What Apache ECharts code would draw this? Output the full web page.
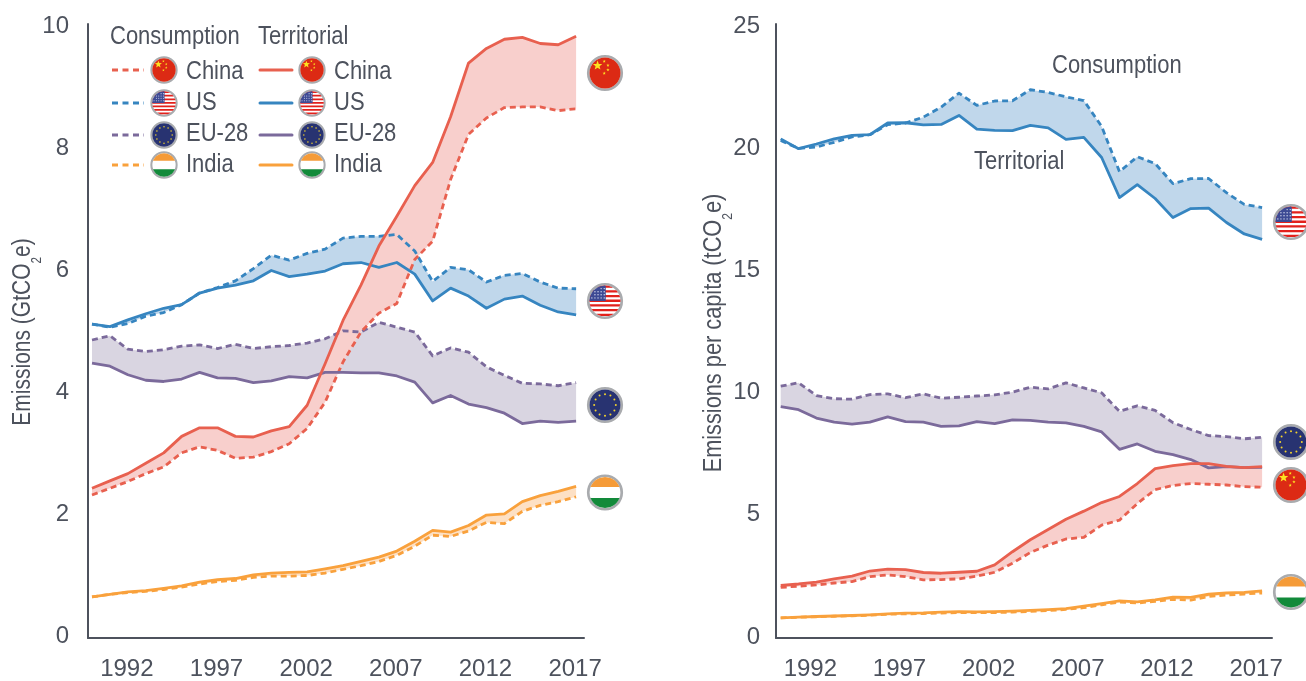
<!DOCTYPE html>
<html>
<head>
<meta charset="UTF-8">
<title>Emissions</title>
<script src="https://cdn.jsdelivr.net/npm/echarts@6/dist/echarts.min.js"></script>
<style>
  html, body { margin: 0; padding: 0; background: #fff; overflow: hidden; }
  #chart { width: 1306px; height: 681px; }
</style>
</head>
<body>
<div id="chart"></div>
<script>
var years = [1990,1991,1992,1993,1994,1995,1996,1997,1998,1999,2000,2001,2002,2003,2004,2005,2006,2007,2008,2009,2010,2011,2012,2013,2014,2015,2016,2017];
var tickYears = [1992,1997,2002,2007,2012,2017];
var ticksTotal = [0,2,4,6,8,10];
var ticksCapita = [0,5,10,15,20,25];

// total emissions, GtCO2e
var chinaTerr = [2.39,2.51,2.63,2.80,2.97,3.24,3.38,3.38,3.24,3.23,3.33,3.40,3.75,4.43,5.14,5.72,6.36,6.85,7.35,7.73,8.48,9.36,9.60,9.75,9.78,9.68,9.66,9.80];
var chinaCons = [2.28,2.39,2.50,2.63,2.74,2.97,3.07,3.01,2.88,2.90,2.99,3.12,3.37,3.80,4.46,4.95,5.26,5.42,6.14,6.44,7.45,8.19,8.46,8.63,8.64,8.64,8.58,8.61];
var usTerr = [5.08,5.04,5.15,5.25,5.34,5.40,5.59,5.67,5.72,5.79,5.96,5.86,5.90,5.95,6.07,6.09,6.01,6.09,5.90,5.46,5.67,5.54,5.34,5.49,5.54,5.39,5.28,5.23];
var usCons = [5.08,5.03,5.09,5.21,5.27,5.40,5.59,5.68,5.79,5.99,6.21,6.13,6.24,6.31,6.49,6.52,6.52,6.55,6.28,5.78,6.01,5.97,5.77,5.88,5.91,5.77,5.67,5.66];
var euTerr = [4.44,4.39,4.25,4.16,4.14,4.18,4.29,4.20,4.19,4.12,4.15,4.22,4.20,4.29,4.29,4.28,4.28,4.23,4.13,3.79,3.91,3.77,3.71,3.62,3.45,3.49,3.47,3.49];
var euCons = [4.82,4.89,4.67,4.63,4.66,4.72,4.74,4.68,4.75,4.68,4.71,4.73,4.77,4.84,4.97,4.95,5.11,5.03,4.95,4.56,4.69,4.62,4.38,4.24,4.11,4.10,4.07,4.12];
var indiaTerr = [0.61,0.65,0.69,0.71,0.75,0.79,0.85,0.89,0.91,0.97,1.00,1.01,1.02,1.07,1.12,1.19,1.26,1.36,1.52,1.70,1.67,1.78,1.95,1.97,2.17,2.27,2.34,2.42];
var indiaCons = [0.61,0.65,0.68,0.70,0.73,0.77,0.82,0.86,0.88,0.93,0.95,0.95,0.96,1.00,1.06,1.12,1.19,1.29,1.44,1.62,1.60,1.69,1.83,1.81,2.01,2.11,2.17,2.25];

// per capita, tCO2e
var chinaTerrCap = [2.03,2.09,2.17,2.30,2.41,2.62,2.70,2.68,2.56,2.53,2.57,2.61,2.87,3.41,3.90,4.32,4.74,5.07,5.42,5.67,6.20,6.81,6.93,7.01,7.01,6.90,6.85,6.89];
var chinaConsCap = [1.95,2.00,2.05,2.13,2.19,2.39,2.46,2.39,2.26,2.27,2.30,2.41,2.57,2.94,3.38,3.68,3.93,4.00,4.50,4.70,5.38,5.95,6.12,6.20,6.17,6.14,6.07,6.05];
var usTerrCap = [20.30,19.90,20.09,20.30,20.44,20.47,20.95,20.96,20.87,20.89,21.26,20.70,20.65,20.64,20.85,20.75,20.28,20.36,19.54,17.90,18.43,17.86,17.08,17.45,17.47,16.88,16.41,16.19];
var usConsCap = [20.23,19.91,19.97,20.16,20.38,20.47,20.88,20.95,21.19,21.60,22.17,21.67,21.85,21.86,22.31,22.20,22.02,21.87,20.81,18.96,19.57,19.29,18.47,18.67,18.68,18.10,17.62,17.49];
var euTerrCap = [9.35,9.22,8.88,8.71,8.63,8.71,8.93,8.73,8.71,8.54,8.56,8.73,8.65,8.80,8.78,8.71,8.68,8.54,8.31,7.60,7.82,7.52,7.38,7.18,6.84,6.89,6.85,6.86];
var euConsCap = [10.18,10.32,9.80,9.67,9.65,9.84,9.87,9.71,9.87,9.69,9.73,9.78,9.83,9.94,10.14,10.07,10.32,10.11,9.91,9.15,9.38,9.19,8.69,8.41,8.16,8.12,8.03,8.09];
var indiaTerrCap = [0.70,0.73,0.76,0.78,0.80,0.83,0.87,0.90,0.91,0.94,0.96,0.95,0.96,0.98,1.01,1.04,1.08,1.18,1.29,1.40,1.36,1.44,1.55,1.54,1.67,1.73,1.75,1.81];
var indiaConsCap = [0.70,0.73,0.75,0.77,0.79,0.81,0.85,0.87,0.88,0.90,0.92,0.92,0.92,0.94,0.97,1.00,1.05,1.12,1.24,1.35,1.31,1.38,1.46,1.43,1.58,1.64,1.68,1.72];

var FONT = '"Liberation Sans", sans-serif';
var INK = '#4d525d';
var NARROW = 0.88; // the original type is a condensed face, none is installed
var colors = { china: '#e8604f', us: '#3685c0', eu: '#7b6a9b', india: '#f9a13c' };
var bands = { china: '#f8cfcc', us: '#c0d7eb', eu: '#d9d5e1', india: '#fde0c4' };

function pairs(values) {
    return years.map(function (y, i) { return [y, values[i]]; });
}

function bandSeries(terr, cons, key, idx) {
    return {
        type: 'custom',
        xAxisIndex: idx,
        yAxisIndex: idx,
        z: 1,
        silent: true,
        data: [[years[0], terr[0]]],
        renderItem: function (params, api) {
            var pts = [];
            for (var i = 0; i < years.length; i++) pts.push(api.coord([years[i], terr[i]]));
            for (var j = years.length - 1; j >= 0; j--) pts.push(api.coord([years[j], cons[j]]));
            return { type: 'polygon', shape: { points: pts }, style: { fill: bands[key], blend: 'multiply' } };
        }
    };
}

function lineSeries(values, key, idx, dashed) {
    return {
        type: 'line',
        xAxisIndex: idx,
        yAxisIndex: idx,
        z: dashed ? 2 : 3,
        silent: true,
        showSymbol: false,
        symbol: 'none',
        data: pairs(values),
        lineStyle: { color: colors[key], width: 2.8, type: dashed ? [6, 4] : 'solid', cap: 'butt', join: 'round' }
    };
}

function countrySeries(terr, cons, key, idx) {
    return [bandSeries(terr, cons, key, idx), lineSeries(cons, key, idx, true), lineSeries(terr, key, idx, false)];
}

// part of a circle between two heights, right side cut at xMax
function chord(r, y0, y1, xMax) {
    var left = [], right = [], n = 16;
    for (var i = 0; i <= n; i++) {
        var y = y0 + (y1 - y0) * i / n;
        var w = Math.sqrt(Math.max(0, r * r - y * y));
        right.push([xMax === undefined ? w : Math.min(w, xMax), y]);
        left.unshift([-w, y]);
    }
    return right.concat(left);
}

function starPoints(cx, cy, r) {
    var pts = [];
    for (var i = 0; i < 10; i++) {
        var a = -Math.PI / 2 + i * Math.PI / 5;
        var d = i % 2 ? r * 0.42 : r;
        pts.push([cx + d * Math.cos(a), cy + d * Math.sin(a)]);
    }
    return pts;
}

function flag(name, cx, cy, R) {
    var r = R * 0.86;
    var kids = [{ type: 'circle', shape: { cx: 0, cy: 0, r: R - R * 0.07 }, style: { fill: '#fff', stroke: '#a9abae', lineWidth: R * 0.15 } }];
    var i;
    if (name === 'china') {
        kids.push({ type: 'circle', shape: { cx: 0, cy: 0, r: r }, style: { fill: '#dc2a14' } });
        kids.push({ type: 'polygon', shape: { points: starPoints(-r * 0.48, -r * 0.48, r * 0.32) }, style: { fill: '#fde321' } });
        [[-0.05, -0.75], [0.19, -0.5], [0.19, -0.2], [-0.05, 0.02]].forEach(function (p) {
            kids.push({ type: 'polygon', shape: { points: starPoints(p[0] * r, p[1] * r, r * 0.11) }, style: { fill: '#fde321' } });
        });
    } else if (name === 'us') {
        for (i = 0; i < 7; i++) {
            var top = -r + i * 2 * r / 6.6;
            kids.push({ type: 'polygon', shape: { points: chord(r, top, Math.min(top + r * 0.15, r)) }, style: { fill: '#e2211c' } });
        }
        kids.push({ type: 'polygon', shape: { points: chord(r, -r, 0, 0.05 * r) }, style: { fill: '#3d4a94' } });
        for (var a = -0.85; a < 0; a += 0.2) {
            for (var b = -0.8; b < -0.05; b += 0.2) {
                if (a * a + b * b < 0.8) kids.push({ type: 'circle', shape: { cx: a * r, cy: b * r, r: r * 0.045 }, style: { fill: '#d8dcf0' } });
            }
        }
    } else if (name === 'eu') {
        kids.push({ type: 'circle', shape: { cx: 0, cy: 0, r: r }, style: { fill: '#283371' } });
        for (i = 0; i < 12; i++) {
            var t = i * Math.PI / 6;
            kids.push({ type: 'circle', shape: { cx: Math.cos(t) * r * 0.7, cy: Math.sin(t) * r * 0.7, r: r * 0.065 }, style: { fill: '#f2d32e' } });
        }
    } else {
        kids.push({ type: 'polygon', shape: { points: chord(r, -r, -r * 0.36) }, style: { fill: '#f59b38' } });
        kids.push({ type: 'polygon', shape: { points: chord(r, r * 0.36, r) }, style: { fill: '#128a3a' } });
    }
    return { type: 'group', x: cx, y: cy, silent: true, children: kids };
}

function label(text, x, y) {
    return { type: 'text', x: x, y: y, scaleX: NARROW, silent: true, style: { text: text, fill: INK, font: '25px ' + FONT, textAlign: 'left', textVerticalAlign: 'middle' } };
}

// rotated axis title, the 2 of CO2 sits at the bottom of a tall line so it drops below the text
function axisTitle(head, x, y, squeeze) {
    return {
        type: 'text', x: x, y: y, rotation: Math.PI / 2, scaleX: squeeze, silent: true,
        style: {
            text: '{a|' + head + '}{s|2}{a|e)}', textAlign: 'center', textVerticalAlign: 'middle',
            rich: {
                a: { fill: INK, font: '25px ' + FONT, lineHeight: 42, verticalAlign: 'middle' },
                s: { fill: INK, font: '14px ' + FONT, lineHeight: 16, verticalAlign: 'bottom' }
            }
        }
    };
}

function legendLine(key, x, y, dashed) {
    return { type: 'line', silent: true, shape: { x1: x, y1: y, x2: x + 32, y2: y }, style: { stroke: colors[key], lineWidth: 3, lineCap: dashed ? 'butt' : 'round', lineDash: dashed ? [6, 4.5] : null } };
}

var legendRows = [
    { key: 'china', text: 'China', y: 70, textY: 72 },
    { key: 'us', text: 'US', y: 103, textY: 103 },
    { key: 'eu', text: 'EU-28', y: 135, textY: 134 },
    { key: 'india', text: 'India', y: 165, textY: 165 }
];
var extras = [label('Consumption', 110, 37), label('Territorial', 258, 37), label('Consumption', 1052, 66), label('Territorial', 974, 162)];
legendRows.forEach(function (row) {
    extras.push(legendLine(row.key, 112, row.y, true), flag(row.key, 164, row.y, 13.6), label(row.text, 186, row.textY));
    extras.push(legendLine(row.key, 260, row.y, false), flag(row.key, 312, row.y, 13.6), label(row.text, 334, row.textY));
});
extras.push(flag('china', 605, 73, 18), flag('us', 605, 301, 18), flag('eu', 605, 405, 18), flag('india', 605, 492.5, 18));
extras.push(flag('us', 1291, 222, 18), flag('eu', 1291, 442, 18), flag('china', 1291, 485, 18), flag('india', 1291, 592, 18));
extras.push(axisTitle('Emissions (GtCO', 23.5, 332, 0.84), axisTitle('Emissions per capita (tCO', 714, 333, 0.87));

function xAxisFor(idx, min, max, shift) {
    return {
        type: 'value', gridIndex: idx, min: min, max: max, splitLine: { show: false },
        axisLine: { show: true, onZero: false, lineStyle: { color: INK, width: 2 } },
        axisTick: { show: false },
        axisLabel: {
            customValues: tickYears, margin: 19, color: INK, fontFamily: FONT, fontSize: 24,
            padding: [0, shift, 0, 0], formatter: function (v) { return String(v); }
        }
    };
}

function yAxisFor(idx, min, max, ticks, margin) {
    return {
        type: 'value', gridIndex: idx, min: min, max: max, splitLine: { show: false },
        axisLine: { show: true, onZero: false, lineStyle: { color: INK, width: 2 } },
        axisTick: { show: false },
        // top + small lineHeight puts the digits about 2px under the tick, as in the original
        axisLabel: { customValues: ticks, margin: margin, color: INK, fontFamily: FONT, fontSize: 24, verticalAlign: 'top', lineHeight: 4 }
    };
}

var chart = echarts.init(document.getElementById('chart'));
chart.setOption({
    animation: false,
    backgroundColor: '#fff',
    grid: [
        { left: 88, top: 24, width: 496, height: 616 },
        { left: 776, top: 24, width: 496, height: 616 }
    ],
    xAxis: [xAxisFor(0, 1989.777, 2017.44, 2), xAxisFor(1, 1989.736, 2017.555, 12)],
    yAxis: [
        yAxisFor(0, -0.065, 10, ticksTotal, 19),
        yAxisFor(1, -0.12, 25, ticksCapita, 16)
    ],
    series: [].concat(
        countrySeries(usTerr, usCons, 'us', 0),
        countrySeries(euTerr, euCons, 'eu', 0),
        countrySeries(indiaTerr, indiaCons, 'india', 0),
        countrySeries(chinaTerr, chinaCons, 'china', 0),
        countrySeries(usTerrCap, usConsCap, 'us', 1),
        countrySeries(euTerrCap, euConsCap, 'eu', 1),
        countrySeries(indiaTerrCap, indiaConsCap, 'india', 1),
        countrySeries(chinaTerrCap, chinaConsCap, 'china', 1)
    ),
    graphic: { elements: extras }
});
</script>
</body>
</html>
